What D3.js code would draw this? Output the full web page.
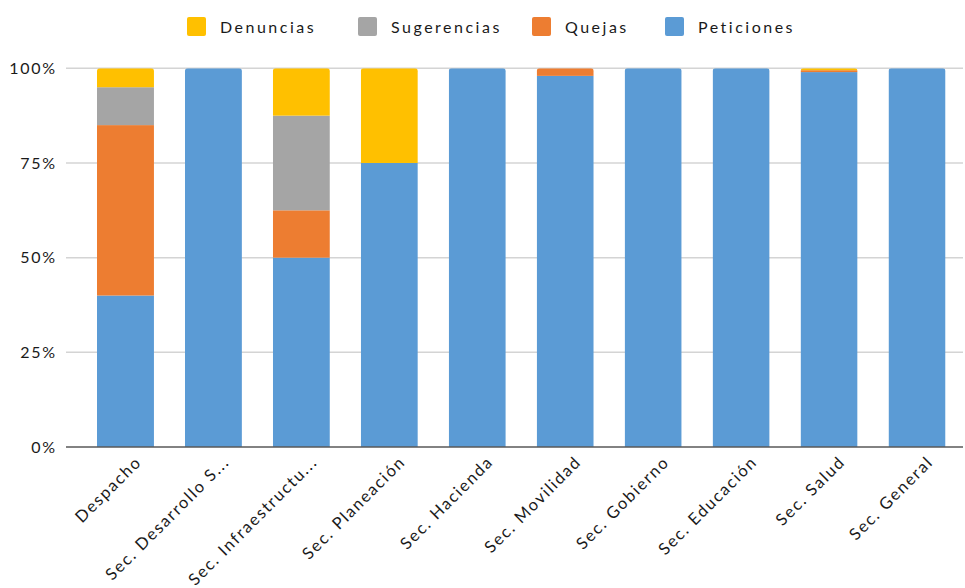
<!DOCTYPE html>
<html>
<head>
<meta charset="utf-8">
<script src="https://cdn.jsdelivr.net/npm/d3@7"></script>
<style>
  html, body { margin: 0; padding: 0; background: #fff; }
  svg { display: block; }
  text { font-family: Lato, "Open Sans", sans-serif; fill: #1a1a1a; }
</style>
</head>
<body>
<svg id="chart" width="965" height="588"></svg>
<script>
// Dependencias (categorías del eje X)
const categories = [
  "Despacho", "Sec. Desarrollo S...", "Sec. Infraestructu...", "Sec. Planeación",
  "Sec. Hacienda", "Sec. Movilidad", "Sec. Gobierno", "Sec. Educación",
  "Sec. Salud", "Sec. General"
];

// Participación de cada tipo de solicitud (%)
const peticiones  = [40, 100, 50,   75, 100, 98, 100, 100, 99,  100];
const quejas      = [45,   0, 12.5,  0,   0,  2,   0,   0, 0.5,   0];
const sugerencias = [10,   0, 25,    0,   0,  0,   0,   0, 0,     0];
const denuncias   = [ 5,   0, 12.5, 25,   0,  0,   0,   0, 0.5,   0];

const yTicks = [0, 25, 50, 75, 100];

// Orden de apilado: de abajo hacia arriba
const seriesNames = ["Peticiones", "Quejas", "Sugerencias", "Denuncias"];
const seriesValues = [peticiones, quejas, sugerencias, denuncias];
const colors = {
  Peticiones: "#5B9BD5",
  Quejas: "#ED7D31",
  Sugerencias: "#A5A5A5",
  Denuncias: "#FFC000"
};
const legendOrder = ["Denuncias", "Sugerencias", "Quejas", "Peticiones"];

const svg = d3.select("#chart");

const rows = categories.map((c, i) => {
  const r = { cat: c };
  seriesNames.forEach((s, k) => r[s] = seriesValues[k][i]);
  return r;
});
const stacked = d3.stack().keys(seriesNames)(rows);

const x = d3.scaleBand()
  .domain(categories)
  .range([81.5, 961])
  .paddingInner(0.352)
  .paddingOuter(0.176);

const y = d3.scaleLinear().domain([0, 100]).range([447, 68.3]);

const gridLeft = 66, gridRight = 963;

// Líneas de cuadrícula
svg.append("g").selectAll("line")
  .data(yTicks.filter(t => t > 0))
  .join("line")
  .attr("x1", gridLeft).attr("x2", gridRight)
  .attr("y1", d => y(d)).attr("y2", d => y(d))
  .attr("stroke", "#d4d4d4").attr("stroke-width", 1.5);

// Etiquetas del eje Y
svg.append("g").selectAll("text")
  .data(yTicks)
  .join("text")
  .attr("x", 57).attr("y", d => y(d))
  .attr("dy", "0.36em")
  .attr("text-anchor", "end")
  .style("font-size", "16px")
  .style("letter-spacing", "1.8px")
  .text(d => d + "%");

// Recorte con esquinas superiores redondeadas por barra
const defs = svg.append("defs");
categories.forEach((c, i) => {
  const top = d3.max(stacked, s => s[i][1]);
  defs.append("clipPath").attr("id", "clip" + i)
    .append("rect")
    .attr("x", x(c)).attr("y", y(top))
    .attr("width", x.bandwidth())
    .attr("height", y(0) - y(top) + 10)
    .attr("rx", 3).attr("ry", 3);
});

// Barras apiladas
const barG = svg.append("g");
categories.forEach((c, i) => {
  const g = barG.append("g").attr("clip-path", `url(#clip${i})`);
  stacked.forEach(s => {
    const d = s[i];
    if (d[1] - d[0] <= 0) return;
    g.append("rect")
      .attr("x", x(c))
      .attr("y", y(d[1]))
      .attr("width", x.bandwidth())
      .attr("height", y(d[0]) - y(d[1]))
      .attr("fill", colors[s.key]);
  });
});

// Eje X
svg.append("line")
  .attr("x1", gridLeft).attr("x2", gridRight)
  .attr("y1", y(0)).attr("y2", y(0))
  .attr("stroke", "#595959").attr("stroke-width", 1.5);

// Etiquetas rotadas del eje X
svg.append("g").selectAll("text")
  .data(categories)
  .join("text")
  .attr("transform", d => `translate(${x(d) + x.bandwidth() / 2 + 13},${y(0) + 12}) rotate(-45)`)
  .attr("text-anchor", "end")
  .attr("dy", "0.35em")
  .style("font-size", "16.5px")
  .style("letter-spacing", "1.7px")
  .text(d => d);

// Leyenda
const legendX = { Denuncias: 187, Sugerencias: 358, Quejas: 532, Peticiones: 665 };
const leg = svg.append("g");
legendOrder.forEach(name => {
  const gx = legendX[name];
  leg.append("rect")
    .attr("x", gx).attr("y", 17)
    .attr("width", 19).attr("height", 19)
    .attr("rx", 2)
    .attr("fill", colors[name]);
  leg.append("text")
    .attr("x", gx + 33).attr("y", 27)
    .attr("dy", "0.35em")
    .style("font-size", "16px")
    .style("letter-spacing", "2.5px")
    .text(name);
});
</script>
</body>
</html>
